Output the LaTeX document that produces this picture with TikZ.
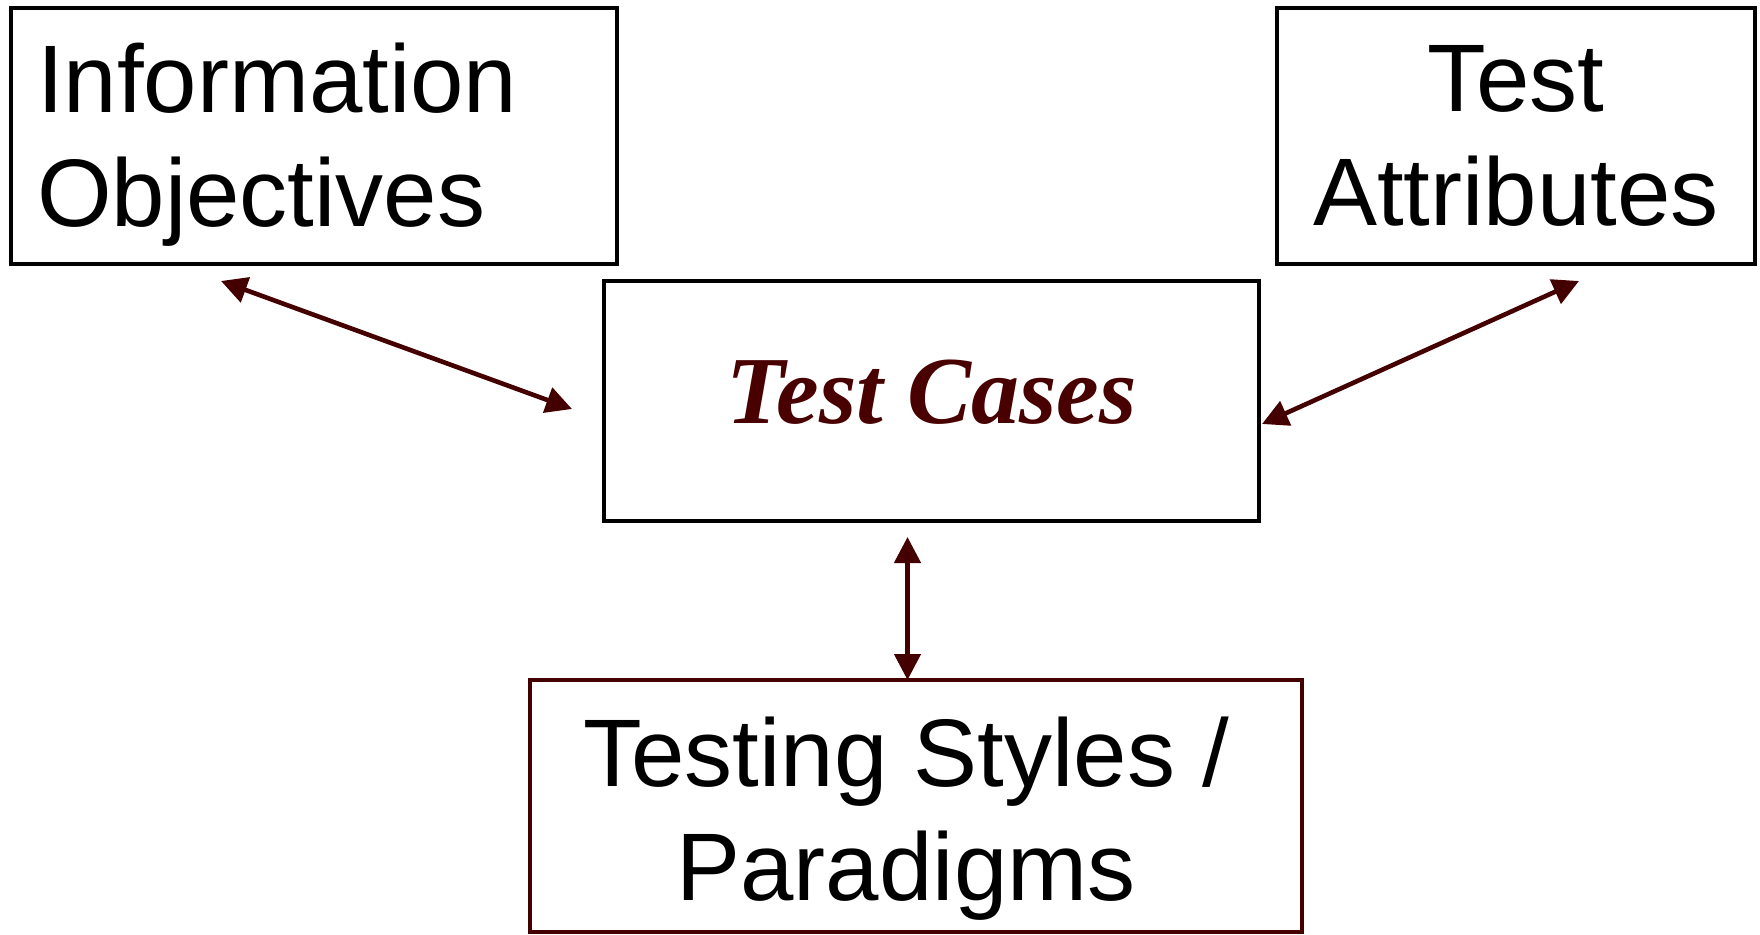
\documentclass[tikz,border=0pt]{standalone}
\usepackage{fontspec}
\setmainfont{Liberation Sans}
\newfontfamily\casefont{Liberation Serif}
\usetikzlibrary{arrows.meta,calc}
\definecolor{linkred}{HTML}{440000}
\definecolor{casered}{HTML}{480000}
\tikzset{
  box/.style={draw=black, line width=2pt, inner sep=0pt, outer sep=0pt},
  boxtext/.style={font=\fontsize{48}{57}\selectfont},
  link/.style={draw=linkred, line width=2.3pt,
    {Triangle[length=13pt,width=13pt]}-{Triangle[length=13pt,width=13pt]}}
}
\begin{document}
\begin{tikzpicture}[x=0.5pt,y=-0.5pt]
\useasboundingbox (0,0) rectangle (1760,935);

% the four boxes
\node[box, minimum width=303pt, minimum height=128pt] (info) at (314,136) {};
\node[boxtext, text width=277pt, align=left] (infotext) at (314,145)
      {Information\\Objectives};
\node[box, boxtext, minimum width=239pt, minimum height=128pt,
      align=center] (attr) at (1516,136)
      {Test\\Attributes};
\node[box, minimum width=327.5pt, minimum height=120pt] (cases) at (931.5,401) {};
\node[font=\casefont\bfseries\itshape\fontsize{48}{57}\selectfont,
      text=casered] (casestext) at (931.5,392) {Test Cases};
\node[box, draw=linkred, minimum width=386pt, minimum height=126pt] (styles) at (916,806) {};
\node[boxtext, align=center] (stylestext) at (906,819)
      {Testing Styles /\\Paradigms};

% free ends of the connectors
\coordinate (a1) at ($(info.south west)+(210,17)$);
\coordinate (b1) at ($(cases.west)+(-32,8)$);
\coordinate (a2) at ($(attr.south west)+(302,17)$);
\coordinate (b2) at ($(cases.east)+(3,23)$);
\coordinate (a3) at ($(cases.south)+(-24,16)$);

\draw[link] (a1) -- (b1);
\draw[link] (a2) -- (b2);
\draw[link] (a3) -- (a3 |- styles.north);
\end{tikzpicture}
\end{document}
